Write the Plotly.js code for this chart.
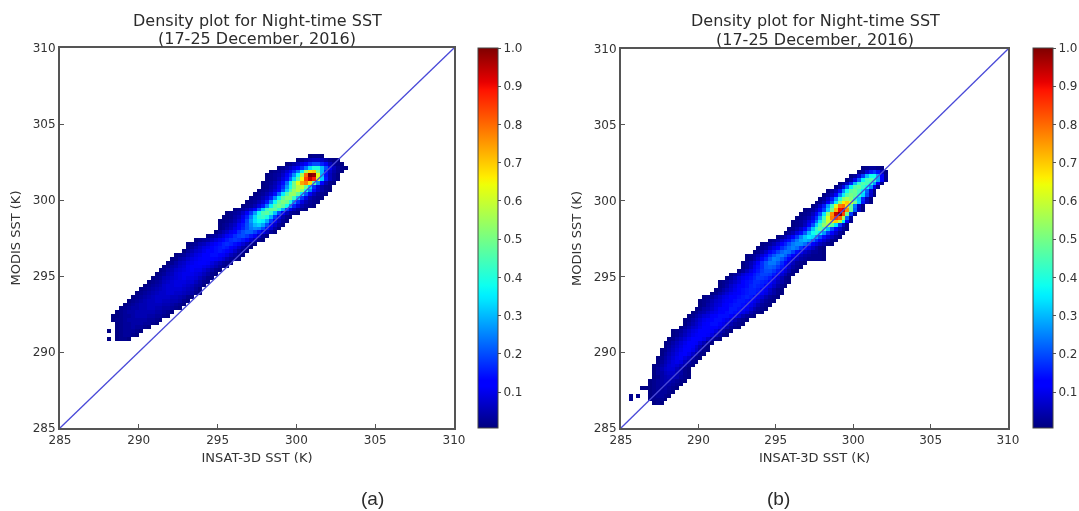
<!DOCTYPE html>
<html><head><meta charset="utf-8">
<script src="https://cdn.plot.ly/plotly-3.0.1.min.js"></script>
<style>html,body{margin:0;padding:0;background:#fff}#c{width:1079px;height:511px;filter:blur(0.45px)}</style>
</head><body><div id="c"></div>
<script>
// Density, in percent. Each row: [lower edge of MODIS SST bin, lower edge of first INSAT SST bin, densities]
const densityRowsA = [
[290.75,288,[1]],[291.25,288,[1]],
[290.75,288.5,[1,2,2,1]],
[291,288.5,[1,2,3,3,2,1]],
[291.25,288.5,[1,2,3,3,3,2,1]],
[291.5,288.5,[1,2,3,3,4,3,3,2,1]],
[291.75,288.5,[1,2,3,3,4,4,4,3,3,2,1]],
[292,288.25,[1,2,2,3,4,4,4,4,4,3,3,2,1]],
[292.25,288.25,[1,1,2,3,3,4,5,5,5,4,4,3,3,2,1]],
[292.5,288.5,[1,2,3,4,4,5,5,5,5,5,4,4,3,2,1]],
[292.75,288.75,[1,2,3,4,4,5,5,6,6,5,5,4,4,3,2,1]],
[293,289,[1,2,3,4,5,5,6,6,6,6,5,5,4,3,2,1]],
[293.25,289.25,[1,2,3,4,5,6,6,7,7,6,6,5,5,4,2,1]],
[293.5,289.5,[1,2,3,4,5,6,7,7,7,7,6,6,5,4,2,1]],
[293.75,289.75,[1,2,3,4,5,6,7,7,8,8,7,7,6,5,4,2,1]],
[294,290,[1,2,3,4,5,6,7,8,8,8,8,7,6,5,3,1]],
[294.25,290.25,[1,2,3,4,5,7,8,8,9,9,8,7,6,4,3,1]],
[294.5,290.5,[1,2,3,4,6,7,8,9,9,9,8,8,6,4,2,1]],
[294.75,290.75,[1,2,3,5,6,7,8,9,10,9,9,8,6,4,2,1]],
[295,291,[1,2,3,5,6,8,9,10,10,10,9,8,6,4,2,1]],
[295.25,291.25,[1,2,4,5,7,8,9,10,11,10,10,8,6,4,2,1]],
[295.5,291.5,[1,2,4,5,7,8,10,11,11,11,10,9,7,5,3,2,1]],
[295.75,291.75,[1,2,4,6,7,9,10,11,12,12,11,9,7,5,3,2,1]],
[296,292,[1,2,4,5,7,9,10,11,12,13,13,11,10,8,5,3,2,1]],
[296.25,292.25,[1,2,3,5,7,9,10,12,13,14,14,13,11,9,6,4,2,1]],
[296.5,292.75,[1,3,5,7,8,10,12,13,14,15,14,12,10,7,4,2,1]],
[296.75,293,[1,3,5,7,9,10,12,14,15,16,15,13,10,7,4,2,1]],
[297,293,[1,2,3,5,6,8,10,12,14,16,17,16,14,11,8,5,2,1]],
[297.25,293.5,[1,2,3,4,6,8,10,12,15,17,18,17,15,12,8,5,2,1]],
[297.5,294.25,[1,3,4,6,8,11,14,17,19,20,18,15,11,7,3,1]],
[297.75,294.75,[1,3,5,7,10,13,17,20,22,22,19,15,10,6,3,1]],
[298,295,[1,2,4,6,9,12,16,20,24,26,25,20,14,8,4,1]],
[298.25,295,[1,2,3,5,7,11,15,20,25,30,32,28,20,12,7,3,1]],
[298.5,295,[1,1,2,3,5,8,13,19,27,34,38,36,29,19,11,6,3,1]],
[298.75,295.25,[1,1,2,4,6,10,16,24,33,41,43,39,29,18,10,5,2,1]],
[299,295.5,[1,2,3,4,7,11,18,27,38,45,47,42,31,20,11,6,3,2,1]],
[299.25,296,[1,2,3,5,8,13,21,32,43,48,48,41,29,18,10,6,3,2,1]],
[299.5,296.5,[1,2,3,5,9,15,25,36,46,50,47,38,26,16,9,5,3,2,1]],
[299.75,296.75,[1,2,3,5,8,15,25,37,47,51,49,40,27,17,9,5,3,2,1]],
[300,297,[1,2,3,5,8,15,25,36,47,52,52,43,30,18,10,5,3,2,1]],
[300.25,297.25,[1,2,3,5,8,14,23,35,46,53,54,47,34,21,11,6,3,2,1]],
[300.5,297.5,[1,2,3,5,8,13,21,32,45,54,58,52,39,25,14,7,4,2,1]],
[300.75,297.75,[1,2,4,6,10,17,27,39,50,58,60,48,32,17,8,4,2,1]],
[301,297.75,[1,2,3,5,8,14,23,36,50,63,74,78,68,46,26,12,5,2,1]],
[301.25,298,[1,2,3,5,9,14,22,33,47,65,84,94,88,60,32,15,6,3,1]],
[301.5,298,[1,2,3,4,7,11,17,26,38,56,80,100,98,62,30,14,6,3,1]],
[301.75,298.25,[1,2,3,5,8,12,17,24,36,55,68,70,50,30,15,7,4,2,1]],
[302,298.75,[1,2,4,6,9,12,17,24,33,40,40,30,20,11,6,3,2,1]],
[302.25,299.25,[1,2,4,6,9,12,17,20,20,16,11,6,3,2,1]],
[302.5,300,[1,2,4,6,7,7,6,4,2,1,1]],
[302.75,300.75,[1,2,2,1]]
];
const densityRowsB = [
[286.75,285.5,[2]],[287,285.5,[2]],[287,286,[2]],
[286.5,287,[1,2,1]],
[286.75,286.75,[1,2,2,2,1]],
[287,286.75,[1,2,3,3,2,1]],
[287.25,286.75,[1,2,3,3,3,2,1]],
[287.5,286.25,[1,1,1,2,3,3,4,3,2,1]],
[287.75,286.75,[1,2,3,4,4,4,3,2,1]],
[288,286.75,[1,2,3,4,5,5,4,3,2,1]],
[288.25,287,[1,2,4,5,6,6,5,3,2,1]],
[288.5,287,[1,3,4,6,7,7,5,4,2,1]],
[288.75,287,[1,3,5,7,8,8,6,4,2,1]],
[289,287,[1,2,4,6,8,9,8,6,4,2,1]],
[289.25,287.25,[1,3,5,7,9,10,9,6,4,2,1]],
[289.5,287.25,[1,2,4,6,8,10,11,9,7,4,2,1]],
[289.75,287.5,[1,3,5,7,9,11,12,10,7,4,2,1]],
[290,287.5,[1,2,4,6,8,10,12,12,10,7,4,2,1]],
[290.25,287.75,[1,3,5,7,9,11,12,11,8,5,2,1]],
[290.5,287.75,[1,2,4,6,8,10,12,13,11,8,5,2,1]],
[290.75,288,[1,2,4,6,8,10,12,13,12,10,7,4,2,1]],
[291,288.25,[1,2,4,6,8,10,11,13,13,11,9,6,4,2,1]],
[291.25,288.25,[1,2,3,5,7,9,10,12,13,13,11,9,6,4,2,1]],
[291.5,288.75,[1,3,5,7,8,10,12,13,13,12,10,8,5,3,2,1]],
[291.75,289,[1,3,5,7,9,11,12,14,14,12,10,8,5,3,2,1]],
[292,289,[1,2,4,6,8,10,11,13,14,14,12,10,8,5,3,2,1]],
[292.25,289.25,[1,2,4,6,8,9,11,12,14,14,14,12,10,8,5,3,2,1]],
[292.5,289.5,[1,2,4,5,7,9,10,12,13,14,15,14,12,10,8,5,3,2,1]],
[292.75,289.75,[1,2,4,5,7,9,11,12,13,15,15,14,12,10,8,5,3,2,1]],
[293,290,[1,2,4,6,8,9,11,12,14,15,15,14,12,10,8,5,3,2,1]],
[293.25,290,[1,2,3,5,7,8,10,11,13,14,15,15,14,12,10,8,5,3,2,1]],
[293.5,290.25,[1,2,3,5,7,9,10,12,13,14,15,16,15,13,10,8,5,3,2,1]],
[293.75,290.75,[1,2,4,6,8,10,11,13,14,15,16,16,14,11,9,6,4,2,1]],
[294,291,[1,2,4,6,8,10,12,14,15,16,16,15,13,10,7,4,2,1]],
[294.25,291.25,[1,2,4,7,9,11,13,14,16,17,16,15,12,10,7,4,2,1]],
[294.5,291.25,[1,2,3,5,7,9,12,14,15,17,17,16,15,12,9,6,4,2,1]],
[294.75,291.75,[1,3,5,8,10,12,14,16,18,18,17,15,11,8,5,2,1]],
[295,292,[1,3,5,8,10,13,15,17,19,19,18,15,11,8,5,2,1]],
[295.25,292.5,[1,3,6,9,12,15,18,20,20,18,15,11,8,5,2,1]],
[295.5,292.75,[1,3,6,10,14,17,21,22,21,18,15,11,7,4,2,1]],
[295.75,292.75,[1,3,5,8,12,17,21,24,24,21,17,13,9,6,3,2,1]],
[296,293,[1,2,4,7,11,16,21,25,24,21,17,13,9,6,4,3,2,2,2,2,1]],
[296.25,293,[1,2,3,5,8,12,17,21,24,25,22,17,13,9,6,4,3,2,2,2,1]],
[296.5,293.5,[1,2,4,7,11,15,19,22,24,23,19,14,10,7,5,3,3,2,1]],
[296.75,293.75,[1,2,3,6,9,13,17,20,23,25,23,18,14,10,7,4,2,1]],
[297,294,[1,2,3,5,8,12,16,20,24,26,26,23,18,13,9,6,4,2,1]],
[297.25,294.5,[1,2,4,7,10,14,19,24,28,30,28,23,17,12,8,5,2,1]],
[297.5,295,[1,3,5,8,12,18,25,31,35,33,27,20,14,9,6,3,1]],
[297.75,295.5,[1,3,5,9,14,21,30,38,41,36,27,18,12,7,3,1]],
[298,295.75,[1,2,4,7,12,20,31,42,48,43,31,20,12,7,3,1]],
[298.25,296,[1,2,3,6,11,20,32,44,53,56,48,34,18,7,1]],
[298.5,296,[1,2,3,5,9,14,23,35,48,60,68,70,58,36,13,2]],
[298.75,296.25,[1,2,3,5,9,17,28,44,62,78,85,80,56,22,3]],
[299,296.5,[1,2,3,6,11,20,34,54,76,94,100,84,50,18,2]],
[299.25,296.75,[1,2,3,6,11,19,32,50,72,90,92,76,48,22,6,1]],
[299.5,297.25,[1,3,7,15,27,43,62,78,80,68,48,24,7,1]],
[299.75,297.5,[1,2,5,11,21,35,52,66,70,63,50,33,15,5,1]],
[300,297.75,[1,3,7,15,26,40,52,56,52,43,32,17,6,1]],
[300.25,298,[1,3,6,13,24,36,46,50,48,42,33,20,7,1]],
[300.5,298.25,[1,3,6,14,26,38,47,49,44,36,22,8,1]],
[300.75,298.75,[1,4,10,22,36,46,48,43,37,26,10,2]],
[301,299,[1,3,7,16,30,42,46,44,40,28,11,2]],
[301.25,299.5,[1,4,10,22,36,44,46,42,28,12,2]],
[301.5,299.75,[1,3,8,18,30,38,38,28,12,2]],
[301.75,300.25,[1,3,8,15,18,14,6,1]],
[302,300.5,[1,2,3,3,2,1]]
];
const oneToOne = [285, 310];
const tickValues = [285, 290, 295, 300, 305, 310];
const titleLines = ['Density plot for Night-time SST', '(17-25 December, 2016)'];
const xLabel = 'INSAT-3D SST (K)';
const yLabel = 'MODIS SST (K)';
const panelLabels = ['(a)', '(b)'];

const W = 1079, H = 511, BIN = 0.25, ORIGIN = 285, N = 100;
const centres = Array.from({length: N}, (_, i) => ORIGIN + BIN * (i + 0.5));
function toGrid(rows) {
  const z = centres.map(() => centres.map(() => null));
  rows.forEach(([y, x, vals]) => {
    const r = Math.round((y - ORIGIN) / BIN), c0 = Math.round((x - ORIGIN) / BIN);
    vals.forEach((v, k) => { z[r][c0 + k] = v / 100; });
  });
  return z;
}
const jet = [[0,'#00007f'],[0.11,'#0000ff'],[0.125,'#0000ff'],[0.34,'#00e9ff'],[0.35,'#00f0ff'],[0.375,'#0dfff0'],[0.64,'#eeff08'],[0.66,'#ffee00'],[0.89,'#ff1200'],[0.91,'#e80000'],[1,'#7f0000']];
const fontFam = '"DejaVu Sans", sans-serif', txt = '#333333';
const px = (a, b) => [a / W, b / W], py = (top, bot) => [1 - bot / H, 1 - top / H];
function heat(rows, xa, ya, barLeft) {
  return {type:'heatmap', x:centres, y:centres, z:toGrid(rows), xaxis:xa, yaxis:ya,
    colorscale:jet, zmin:0.006, zmax:1, hoverongaps:false,
    colorbar:{x:barLeft/W, xanchor:'left', xpad:0, ypad:0, y:1-428/H, yanchor:'bottom', lenmode:'pixels', len:380,
      thicknessmode:'pixels', thickness:20, tick0:0.1, dtick:0.1, tickformat:'.1f', ticks:'outside', ticklen:3, tickcolor:'#555',
      outlinecolor:'#444', outlinewidth:1, tickfont:{family:fontFam,size:12,color:txt}}};
}
function lineTrace(xa, ya) {
  return {type:'scatter', mode:'lines', x:oneToOne, y:oneToOne, xaxis:xa, yaxis:ya, line:{color:'#4a4ad8', width:1.3}, showlegend:false, hoverinfo:'skip'};
}
function axis(dom, anchor, label, standoff) {
  return {domain:dom, anchor, range:[285,310], tickvals:tickValues, ticks:'inside', ticklen:4, tickcolor:'#555', tickwidth:1,
    showline:true, linecolor:'#555', linewidth:2, mirror:true, showgrid:false, zeroline:false, automargin:false,
    tickfont:{family:fontFam,size:12,color:txt}, title:{text:label, font:{family:fontFam,size:13,color:txt}, standoff}};
}
const ann = (x, y, text, size, fam) => ({xref:'paper', yref:'paper', x:x/W, y:1-y/H, text, showarrow:false, xanchor:'center', yanchor:'middle', font:{family:fam, size, color:'#2b2b2b'}});
const layout = {
  width:W, height:H, margin:{l:0,r:0,t:0,b:0}, paper_bgcolor:'#fff', plot_bgcolor:'#fff', showlegend:false,
  xaxis:axis(px(60,454),'y',xLabel,6), yaxis:axis(py(48,428),'x',yLabel,9),
  xaxis2:axis(px(621,1008),'y2',xLabel,6), yaxis2:axis(py(49,428),'x2',yLabel,9),
  annotations:[
    ann(257,20,titleLines[0],16,fontFam), ann(257,38,titleLines[1],16,fontFam),
    ann(815,21,titleLines[0],16,fontFam), ann(815,39,titleLines[1],16,fontFam),
    ann(372,498,panelLabels[0],19,'"Liberation Sans", sans-serif'), ann(778,498,panelLabels[1],19,'"Liberation Sans", sans-serif')
  ]
};
Plotly.newPlot('c',[
  heat(densityRowsA,'x','y',478), heat(densityRowsB,'x2','y2',1033),
  lineTrace('x','y'), lineTrace('x2','y2')
],layout,{displayModeBar:false,staticPlot:true});
</script></body></html>
